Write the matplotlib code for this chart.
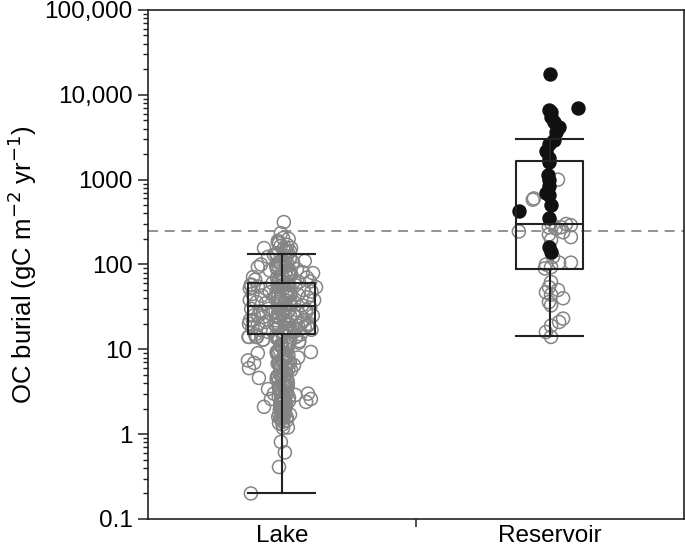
"""
OC burial in lakes and reservoirs: box plots with jittered points
"""
import matplotlib
matplotlib.use('Agg')
import matplotlib.pyplot as plt
from matplotlib import ticker

plt.rcParams['font.family'] = ['Liberation Sans', 'DejaVu Sans']

CATEGORIES = ['Lake', 'Reservoir']
THRESHOLD = 250  # dashed reference line

# Box statistics
q1 = [15, 89]
medians = [32, 299]
q3 = [61, 1660]
whisker_low = [0.2, 14.4]
whisker_high = [134, 3040]

# Lake points: jitter (category units) and values
lake_jitter = [
    0.007, -0.004, 0.004, -0.011, -0.067, 0.034, -0.052, -0.090, 0.041,
    0.078, 0.116, -0.108, 0.127, -0.116, 0.063, 0.056, 0.093, 0.105,
    -0.100, -0.078, 0.022, 0.030, -0.030, 0.015, -0.045, 0.085, -0.120,
    -0.115, -0.090, -0.060, -0.035, 0.050, 0.080, 0.110, -0.110, -0.075,
    -0.045, 0.060, 0.095, 0.120, -0.120, -0.095, -0.060, 0.045, 0.075,
    0.105, -0.115, -0.080, -0.050, 0.055, 0.090, 0.115, -0.105, -0.070,
    -0.040, 0.050, 0.080, 0.100, -0.120, -0.090, -0.060, 0.060, 0.085,
    -0.110, -0.080, -0.050, 0.045, 0.070, -0.100, 0.110, -0.125, -0.093,
    0.052, 0.065, -0.070, 0.095, -0.025, 0.030, -0.028, 0.030,
    -0.123, -0.108, -0.089, -0.071, 0.090, 0.082, 0.071, 0.097, -0.123,
    -0.097, -0.071, 0.052, 0.063,
    0.108, -0.090, -0.127, -0.104, -0.123, 0.034, -0.086, -0.011, -0.052,
    0.015, 0.097, 0.108, -0.041, 0.026, 0.090, -0.067, 0.015, -0.004,
    -0.004, 0.004, -0.011, 0.022, 0.004, -0.004, 0.011, -0.011, -0.116,
    0.060, 0.045, -0.030, 0.050, 0.030,
    # dense core column
    -0.015, 0.020, 0.005, -0.020, 0.030, -0.005, 0.015, -0.018, 0.025,
    0.000, -0.012, 0.022, 0.008, -0.020, 0.032, -0.008, 0.012, -0.016,
    0.026, 0.002, -0.010, 0.018, -0.022, 0.028, 0.006, -0.014, 0.020,
    -0.004, 0.014, -0.020, 0.024, 0.000, -0.012, 0.016, -0.006, 0.010,
    -0.016, 0.020, 0.004, -0.010, 0.012, -0.004, 0.008, 0.000, -0.006,
    0.006, 0.002,
    0.010, -0.020, 0.025, -0.008, 0.018, -0.015, 0.030, 0.000, -0.022,
    0.012, 0.028, -0.012, 0.020, -0.018, 0.005, 0.015, -0.005, 0.022,
    -0.010, 0.008,
    0.025, -0.015, 0.010, 0.030, -0.020, 0.000, 0.020, -0.010, 0.015,
    0.035, -0.018, 0.005, 0.028, -0.008, 0.018, -0.022, 0.012, 0.032,
    -0.004, 0.022, -0.016, 0.008, 0.026, -0.012, 0.016, 0.002, -0.020,
    0.030, -0.006, 0.020, -0.014, 0.010, 0.024, -0.010, 0.014, 0.000,
    -0.018, 0.020, 0.006, -0.008, 0.016, -0.002, 0.010, 0.004, -0.006,
    0.012, 0.000, 0.006, -0.004,
    -0.005, 0.018, -0.022, 0.032, 0.008, -0.012, 0.024, -0.002, 0.014,
    -0.018, 0.028, 0.004, -0.010, 0.020, -0.016, 0.010, 0.030, -0.006,
    0.016, -0.020, 0.022, 0.000, -0.012, 0.026, 0.006, -0.008, 0.012,
    -0.014, 0.018, 0.002,
    0.014, -0.010, 0.028, -0.018, 0.004, 0.022, -0.006, 0.032, -0.014,
    0.010, 0.018, -0.022, 0.026, 0.000, -0.008, 0.016, 0.006, -0.016,
    0.024, -0.002, 0.012, -0.012, 0.020, 0.004, -0.006, 0.014, 0.008,
    -0.010, 0.018, 0.000, 0.010, -0.004, 0.006, 0.012, -0.002, 0.004,
]
lake_values = [
    316, 234, 205, 178, 156, 156, 123, 93, 107,
    81, 79, 71, 54, 57, 62, 88, 70, 63,
    66, 100, 140, 118, 130, 95, 85, 110, 52,
    58, 55, 52, 60, 57, 50, 48, 45, 43,
    47, 44, 41, 38, 38, 36, 35, 36, 33,
    31, 30, 28, 30, 29, 27, 25, 25, 24,
    26, 24, 22, 20, 22, 20, 21, 19, 18,
    18, 17, 16, 16, 15, 15, 17, 14, 14,
    14, 12.5, 13, 19, 40, 45, 20, 25,
    20, 22, 25, 27, 29, 22, 20, 19, 14,
    14, 13, 14, 12,
    9.3, 9.0, 7.4, 6.9, 6.0, 5.7, 4.6, 4.4, 3.4,
    3.6, 3.0, 2.6, 2.6, 2.7, 2.4, 2.1, 2.2, 1.9,
    1.55, 1.4, 1.35, 1.2, 1.18, 0.81, 0.61, 0.41, 0.2,
    8.0, 6.5, 3.0, 2.9, 1.7,
    # dense core column
    190, 170, 150, 135, 120, 108, 97, 88, 80,
    72, 65, 59, 53, 48, 43, 39, 35, 32,
    29, 26, 23.5, 21, 19, 17, 15.5, 14, 12.6,
    11.4, 10.3, 9.3, 8.4, 7.6, 6.9, 6.2, 5.6, 5.1,
    4.6, 4.2, 3.8, 3.4, 3.1, 2.8, 2.5, 2.3, 2.05,
    1.85, 1.65,
    115, 92, 76, 62, 50, 41, 34, 27.5, 22,
    18, 16.3, 13.3, 10.8, 8.8, 7.2, 5.9, 4.9, 4.0,
    3.3, 2.7,
    200, 182, 160, 143, 128, 113, 102, 93, 84,
    76, 69, 63, 57, 51, 46, 42, 38, 34.5,
    31, 28, 25, 22.5, 20, 18, 16.5, 15, 13.6,
    12.2, 11, 10, 9, 8.1, 7.3, 6.6, 6.0, 5.4,
    4.8, 4.3, 3.9, 3.5, 3.2, 2.9, 2.6, 2.4, 2.2,
    2.0, 1.8, 1.6, 1.5,
    165, 125, 99, 78, 67, 55, 44, 37, 30,
    24, 19.5, 16, 13, 11.8, 9.6, 8.6, 7.0, 6.4,
    5.2, 4.45, 3.7, 3.15, 2.75, 2.45, 2.1, 1.95, 1.75,
    1.6, 1.45, 1.3,
    145, 105, 86, 70, 58, 47, 40, 33, 27,
    21.5, 17.5, 14.5, 12, 10.6, 9.8, 8.3, 7.8, 6.8,
    5.8, 5.0, 4.1, 3.6, 3.0, 2.65, 2.35, 2.15, 1.9,
    1.7, 1.58, 11.2, 8.9, 6.1, 4.7, 3.45, 2.55, 1.82,
]

# Reservoir points, open (gray) circles
res_open_jitter = [
    0.030, -0.060, -0.064, 0.004, -0.004, 0.041, 0.022, -0.116, 0.049,
    0.078, -0.004, 0.004, 0.011, -0.015, 0.034, 0.078, 0.004, 0.004,
    -0.004, -0.015, 0.030, 0.004, 0.049, -0.004, 0.004, 0.049, 0.034,
    0.004, -0.015, 0.004, -0.019, 0.060, 0.078,
]
res_open_values = [
    1000, 600, 580, 310, 275, 275, 265, 245, 240,
    210, 225, 195, 123, 100, 105, 105, 93, 62,
    54, 47, 50, 44, 40, 36, 33, 23, 21,
    19, 16, 14, 90, 300, 290,
]

# Reservoir points, filled (black) circles
res_filled_jitter = [
    0.000, 0.104, -0.004, 0.004, 0.004, 0.015, 0.034, 0.022, 0.015,
    -0.004, -0.015, -0.004, -0.004, -0.007, -0.004, -0.004, -0.015,
    -0.004, 0.004, -0.116, -0.004, -0.004, 0.004,
]
res_filled_values = [
    17600, 6900, 6600, 6200, 5400, 4800, 4200, 3600, 2900,
    2600, 2200, 1800, 1600, 1130, 1000, 830, 690, 660,
    500, 425, 355, 162, 141,
]


def main():
    fig = plt.figure(figsize=(6.85, 5.53), dpi=100)
    ax = fig.add_axes([0.216, 0.0615, 0.7825, 0.9205])

    positions = [1, 2]

    # Jittered points
    ax.scatter([positions[0] + j for j in lake_jitter], lake_values,
               s=88, facecolors='none', edgecolors='#858585',
               linewidths=1.1, zorder=2)
    ax.scatter([positions[1] + j for j in res_open_jitter], res_open_values,
               s=88, facecolors='none', edgecolors='#858585',
               linewidths=1.1, zorder=2)
    ax.scatter([positions[1] + j for j in res_filled_jitter],
               res_filled_values,
               s=88, facecolors='#111111', edgecolors='#111111',
               linewidths=1.0, zorder=3)

    # Box plots from the read statistics
    stats = []
    for i in range(len(CATEGORIES)):
        stats.append({'med': medians[i], 'q1': q1[i], 'q3': q3[i],
                      'whislo': whisker_low[i], 'whishi': whisker_high[i],
                      'fliers': [], 'label': CATEGORIES[i]})
    line_style = {'color': '#222222', 'linewidth': 1.5}
    ax.bxp(stats, positions=positions, widths=0.25, capwidths=0.25,
           showfliers=False, patch_artist=False,
           boxprops=line_style, medianprops=line_style,
           whiskerprops=line_style, capprops=line_style,
           manage_ticks=False, zorder=4)

    # Dashed reference line
    ax.axhline(THRESHOLD, color='#808080', linestyle=(0, (6, 4)),
               linewidth=1.2, zorder=1)

    # Axes
    ax.set_yscale('log')
    ax.set_ylim(0.1, 100000)
    ax.set_xlim(0.5, 2.5)

    ax.yaxis.set_major_locator(ticker.LogLocator(base=10, numticks=10))
    ax.yaxis.set_minor_locator(ticker.LogLocator(base=10,
                                                 subs=range(2, 10),
                                                 numticks=20))
    ax.yaxis.set_minor_formatter(ticker.NullFormatter())
    ylabels = {0.1: '0.1', 1: '1', 10: '10', 100: '100', 1000: '1000',
               10000: '10,000', 100000: '100,000'}
    ax.yaxis.set_major_formatter(ticker.FuncFormatter(
        lambda v, pos: ylabels.get(round(v, 1) if v < 1 else round(v), '')))

    ax.set_xticks(positions)
    ax.set_xticklabels(CATEGORIES)
    ax.set_xticks([1.5], minor=True)
    ax.tick_params(axis='x', which='major', length=0, pad=4,
                   labelsize=17.5)
    ax.tick_params(axis='x', which='minor', length=6, width=1.1,
                   direction='out', color='#222222')
    ax.tick_params(axis='y', which='major', length=7, width=1.1,
                   direction='out', labelsize=17.5, color='#222222', pad=4)
    ax.tick_params(axis='y', which='minor', length=3.5, width=1.0,
                   direction='out', color='#222222')

    for spine in ax.spines.values():
        spine.set_linewidth(1.2)
        spine.set_color('#222222')

    ax.set_ylabel('OC burial (gC m$^{-2}$ yr$^{-1}$)', fontsize=18.5,
                  labelpad=4)

    fig.savefig('out.png', dpi=100)


if __name__ == '__main__':
    main()
